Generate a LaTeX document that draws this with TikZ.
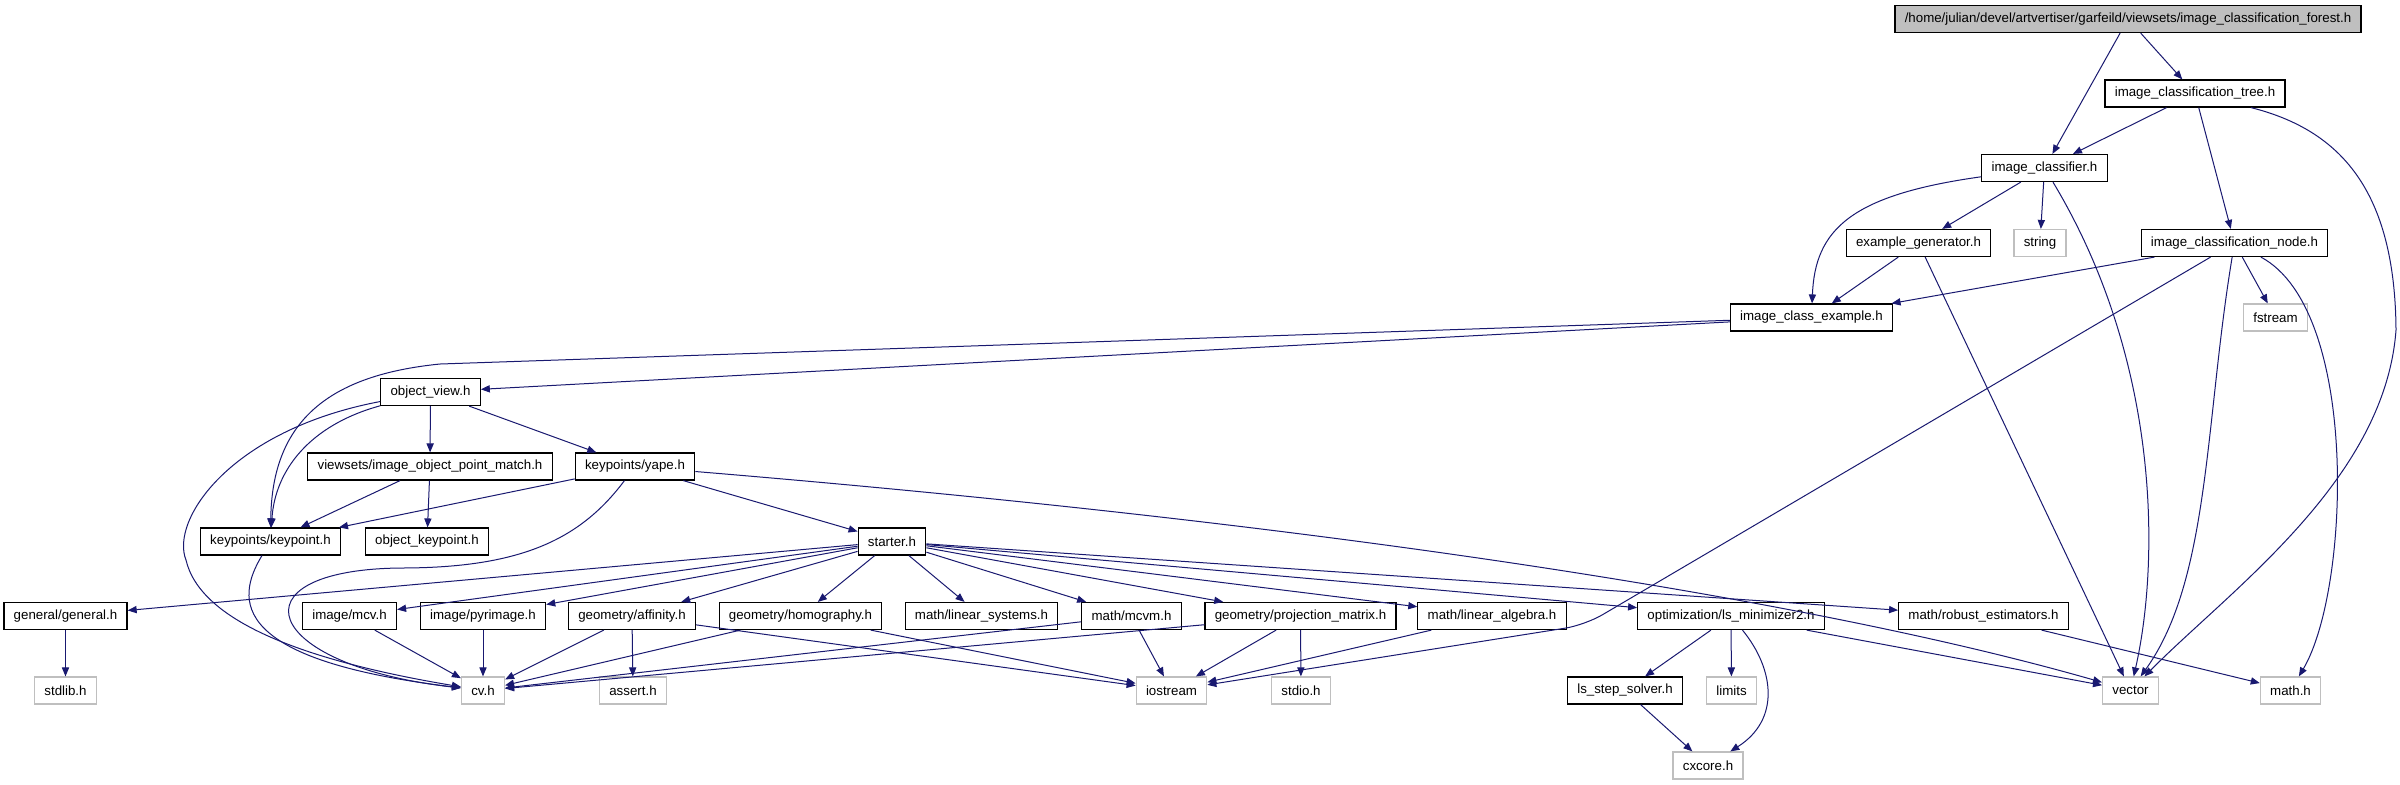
\documentclass[tikz,border=0pt]{standalone}
\usepackage{fontspec}
\setmainfont{Liberation Sans}
\usetikzlibrary{arrows.meta}
\definecolor{inclblue}{RGB}{25,25,112}
\definecolor{sysgray}{RGB}{191,191,191}
\begin{document}
\begin{tikzpicture}[x=0.5pt,y=-0.5pt,
  font=\fontsize{6.65}{8}\selectfont,
  filebox/.style={draw=black,line width=0.6pt,fill=white,minimum height=13.5pt,inner xsep=4.9pt,inner ysep=0pt},
  sysbox/.style={filebox,draw=sysgray},
  rootbox/.style={filebox,fill=sysgray},
  incl/.style={inclblue,line width=0.5pt,-{Triangle[length=4.5pt,width=3.6pt]}}]
\fill [white] (0,0) rectangle (2400,784);
\useasboundingbox (0,0) rectangle (2400,784);
% files
\node [rootbox] (forest) at (2128,19) {/home/julian/devel/artvertiser/garfeild/viewsets/image\_classification\_forest.h};
\node [filebox] (tree) at (2195,93.5) {image\_classification\_tree.h};
\node [filebox] (classifier) at (2044.5,168) {image\_classifier.h};
\node [filebox] (generator) at (1918.5,243) {example\_generator.h};
\node [sysbox] (stringh) at (2040,243) {string};
\node [filebox] (clsnode) at (2234.5,243) {image\_classification\_node.h};
\node [filebox] (example) at (1811.5,317.5) {image\_class\_example.h};
\node [sysbox] (fstream) at (2275.5,317.5) {fstream};
\node [filebox] (objview) at (430.5,392) {object\_view.h};
\node [filebox] (pointmatch) at (430,466.5) {viewsets/image\_object\_point\_match.h};
\node [filebox] (yape) at (635,466.5) {keypoints/yape.h};
\node [filebox] (keypoint) at (270.5,541.5) {keypoints/keypoint.h};
\node [filebox] (objkey) at (427,541.5) {object\_keypoint.h};
\node [filebox] (starter) at (892,541.5) {starter.h};
\node [filebox] (general) at (65.5,616) {general/general.h};
\node [filebox] (mcv) at (349.5,616) {image/mcv.h};
\node [filebox] (pyrimage) at (483,616) {image/pyrimage.h};
\node [filebox] (affinity) at (632,616) {geometry/affinity.h};
\node [filebox] (homography) at (800.5,616) {geometry/homography.h};
\node [filebox] (linsys) at (981.5,616) {math/linear\_systems.h};
\node [filebox] (mcvm) at (1131.5,616) {math/mcvm.h};
\node [filebox] (projmat) at (1300.5,616) {geometry/projection\_matrix.h};
\node [filebox] (linalg) at (1492,616) {math/linear\_algebra.h};
\node [filebox] (lsmin) at (1731,616) {optimization/ls\_minimizer2.h};
\node [filebox] (robust) at (1983.5,616) {math/robust\_estimators.h};
\node [sysbox] (stdlib) at (65.5,690.5) {stdlib.h};
\node [sysbox] (cvh) at (483,690.5) {cv.h};
\node [sysbox] (asserth) at (633,690.5) {assert.h};
\node [sysbox] (iostream) at (1171.5,690.5) {iostream};
\node [sysbox] (stdio) at (1301,690.5) {stdio.h};
\node [filebox] (lsstep) at (1625,690.5) {ls\_step\_solver.h};
\node [sysbox] (limits) at (1731.5,690.5) {limits};
\node [sysbox] (vectorh) at (2130.5,690.5) {vector};
\node [sysbox] (mathh) at (2290.5,690.5) {math.h};
\node [sysbox] (cxcore) at (1708,765.5) {cxcore.h};
% includes
\draw [incl] (forest) -- (classifier);
\draw [incl] (forest) -- (tree);
\draw [incl] (tree) -- (classifier);
\draw [incl] (tree) -- (clsnode);
\draw [incl] (tree) .. controls (2340,130) and (2395,190) .. (2396,330) .. controls (2385,480) and (2230,590) .. (vectorh);
\draw [incl] (classifier) -- (generator);
\draw [incl] (classifier) -- (stringh);
\draw [incl] (classifier) .. controls (1850,195) and (1815,230) .. (example);
\draw [incl] (classifier) .. controls (2160,360) and (2160,560) .. (vectorh);
\draw [incl] (clsnode) -- (example);
\draw [incl] (clsnode) -- (fstream);
\draw [incl] (clsnode) .. controls (2205,420) and (2210,580) .. (vectorh);
\draw [incl] (clsnode) .. controls (2360,310) and (2350,590) .. (mathh);
\draw [incl,rounded corners=10pt] (clsnode) -- (1585,625) -- (iostream);
\draw [incl] (generator) -- (example);
\draw [incl] (generator) -- (vectorh);
\draw [incl] (example) -- (objview);
\draw [incl] (example) -- (440,364) .. controls (330,375) and (272,420) .. (keypoint);
\draw [incl] (objview) -- (pointmatch);
\draw [incl] (objview) -- (yape);
\draw [incl] (objview) .. controls (310,425) and (275,470) .. (keypoint);
\draw [incl] (objview) .. controls (230,430) and (170,520) .. (186,560) .. controls (200,620) and (300,660) .. (cvh);
\draw [incl] (pointmatch) -- (keypoint);
\draw [incl] (pointmatch) -- (objkey);
\draw [incl] (yape) -- (keypoint);
\draw [incl] (yape) .. controls (580,540) and (520,568) .. (400,568) .. controls (230,570) and (260,665) .. (cvh);
\draw [incl] (yape) -- (starter);
\draw [incl] (yape) .. controls (1400,530) and (1850,610) .. (vectorh);
\draw [incl] (keypoint) .. controls (235,600) and (230,660) .. (cvh);
\draw [incl] (starter) -- (general);
\draw [incl] (starter) -- (mcv);
\draw [incl] (starter) -- (pyrimage);
\draw [incl] (starter) -- (affinity);
\draw [incl] (starter) -- (homography);
\draw [incl] (starter) -- (linsys);
\draw [incl] (starter) -- (mcvm);
\draw [incl] (starter) -- (projmat);
\draw [incl] (starter) -- (linalg);
\draw [incl] (starter) -- (lsmin);
\draw [incl] (starter) -- (robust);
\draw [incl] (general) -- (stdlib);
\draw [incl] (mcv) -- (cvh);
\draw [incl] (pyrimage) -- (cvh);
\draw [incl] (affinity) -- (cvh);
\draw [incl] (affinity) -- (asserth);
\draw [incl] (affinity) -- (iostream);
\draw [incl] (homography) -- (cvh);
\draw [incl] (homography) -- (iostream);
\draw [incl] (mcvm) -- (cvh);
\draw [incl] (mcvm) -- (iostream);
\draw [incl] (projmat) -- (cvh);
\draw [incl] (projmat) -- (iostream);
\draw [incl] (projmat) -- (stdio);
\draw [incl] (linalg) -- (iostream);
\draw [incl] (lsmin) -- (lsstep);
\draw [incl] (lsmin) -- (limits);
\draw [incl] (lsmin) .. controls (1775,670) and (1780,720) .. (cxcore);
\draw [incl] (lsmin) -- (vectorh);
\draw [incl] (lsstep) -- (cxcore);
\draw [incl] (robust) -- (mathh);
\end{tikzpicture}
\end{document}
